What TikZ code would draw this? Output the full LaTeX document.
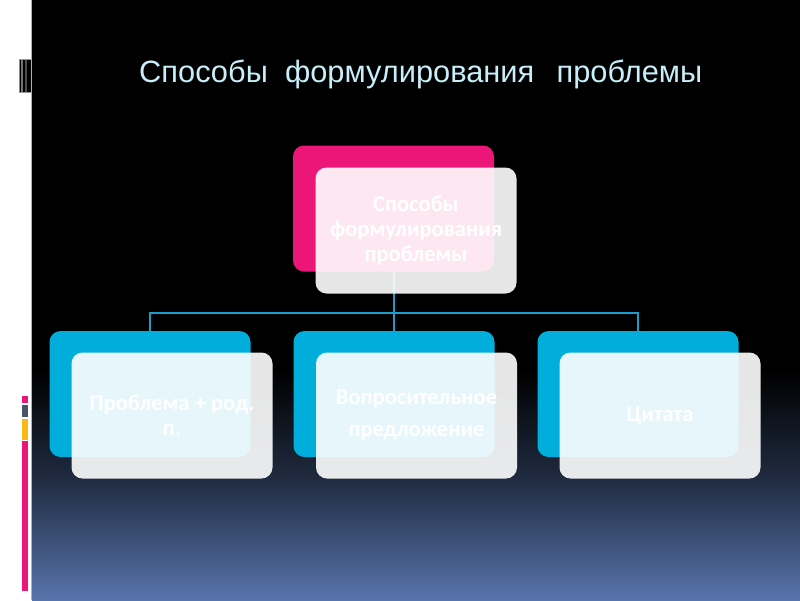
\documentclass[tikz,border=0pt]{standalone}
\usepackage{fontspec}
\setmainfont{Carlito}
\newfontfamily\titlefont{Liberation Sans}
\definecolor{pinkbox}{RGB}{236,22,121}
\definecolor{bluebox}{RGB}{0,173,219}
\definecolor{connc}{RGB}{27,157,203}
\definecolor{titlec}{RGB}{200,238,250}
\definecolor{bgmid}{RGB}{32,44,66}
\definecolor{bgbot}{RGB}{88,116,172}
\definecolor{stripgrey}{RGB}{74,84,104}
\definecolor{stripor}{RGB}{253,184,19}
\begin{document}
\begin{tikzpicture}[x=1pt,y=-1pt,
  basebox/.style={rounded corners=11pt,minimum width=201pt,minimum height=126pt,inner sep=0pt},
  pinkb/.style={basebox,fill=pinkbox},
  blueb/.style={basebox,fill=bluebox},
  overlay/.style={basebox,fill=white,fill opacity=0.9,text opacity=1,text=white,
     align=center,font=\bfseries\fontsize{22.5}{25}\selectfont},
  conn/.style={draw=connc,line width=1.6pt}]
\useasboundingbox (0,0) rectangle (800,600);
% page and slide background
\fill[white] (0,0) rectangle (800,600);
\fill[black] (32,0) rectangle (800,600);
\shade[top color=black,bottom color=bgmid] (32,370) rectangle (800,481);
\shade[top color=bgmid,bottom color=bgbot] (32,480) rectangle (800,600);
\draw[black!30,line width=1.2pt] (31.6,0) -- (31.6,600);
% top-left decoration
\fill[black] (19,59) rectangle (31,93);
\draw[black!45,line width=0.8pt] (19.4,59) -- (19.4,93);
\draw[black!55,line width=1.6pt] (22,59) -- (22,93);
\draw[black!70,line width=1.2pt] (26,59) -- (26,93);
\draw[black!40,line width=0.6pt] (19,59.3) -- (31,59.3) (19,92.7) -- (31,92.7);
% left colour strip
\fill[pinkbox] (22,396) rectangle (28,403);
\fill[stripgrey] (22,405) rectangle (28,417);
\fill[stripor] (22,419) rectangle (28,440);
\fill[pinkbox] (22,441) rectangle (28,591);
% title
\node[anchor=base west,inner sep=0pt,text=titlec,font=\titlefont\fontsize{30.8}{36}\selectfont]
  (title) at (139,82) {Способы\ \ формулирования\ \ \,проблемы};
% back boxes
\node[pinkb] (p0) at (393.5,208.5) {};
\node[blueb] (b1) at (150,394) {};
\node[blueb] (b2) at (394,394) {};
\node[blueb] (b3) at (638,394) {};
% connectors
\coordinate (h) at (394,313);
\draw[conn] (p0.south -| h) -- (h);
\draw[conn] (b1.north) |- (h) -| (b3.north);
\draw[conn] (h) -- (b2.north);
% front boxes
\node[overlay] (o0) at (416,230.5) {Способы\\формулирования\\проблемы};
\node[overlay] (o1) at (172,415.5) {Проблема + род.\\п.};
\node[overlay] (o2) at (416.5,415.5) {Вопросительное\\[7pt]предложение};
\node[overlay] (o3) at (660,415.5) {Цитата};
\end{tikzpicture}
\end{document}
